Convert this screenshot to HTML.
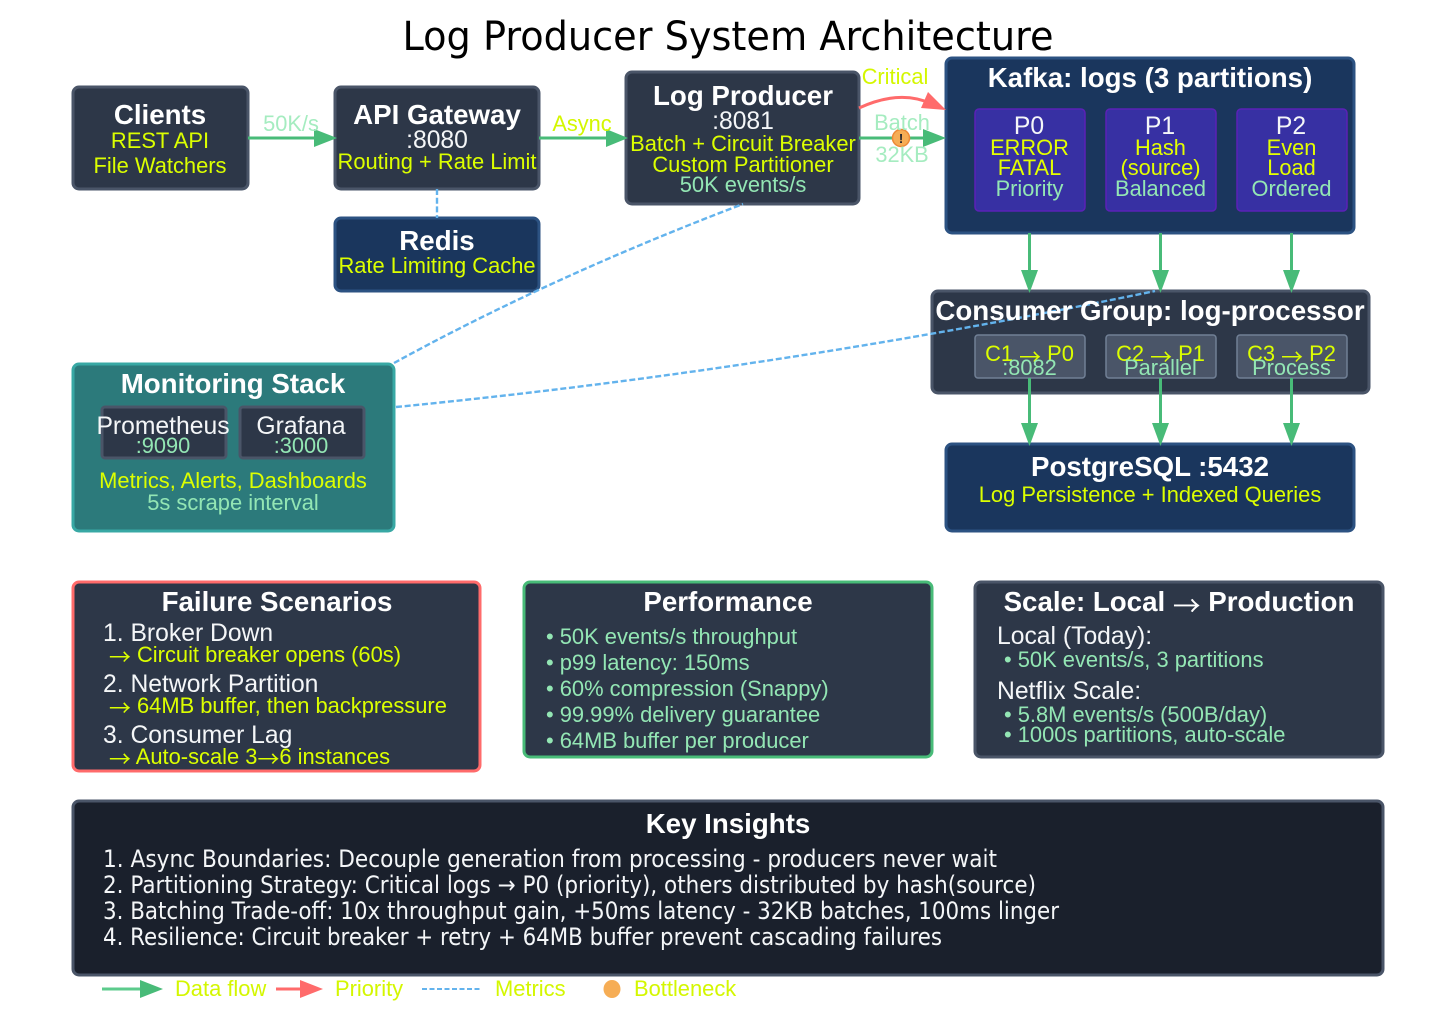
<!DOCTYPE html>
<html lang="en">
<head>
<meta charset="utf-8">
<title>Log Producer System Architecture</title>
<style>
html,body{margin:0;padding:0;background:#fff}
svg{display:block}
text{font-family:"Liberation Sans",Arial,sans-serif}
.m{text-anchor:middle}
.h{font-weight:700;font-size:27.7px;fill:#fff}
.w{font-size:24.7px;fill:#f4f6f8}
.y{font-size:21.9px;fill:#dcff00}
.g{font-size:21.9px;fill:#93e6b4}
.ys{font-size:21.8px;fill:#e4ff00}
.gs{font-size:21.8px;fill:#93e6b4}
.ll{fill:#a5ecc0}
.ly{fill:#d4f700}
.d{fill:#2d3748;stroke:#4a5568;stroke-width:3}
.b{fill:#1a365d;stroke:#2c5282;stroke-width:3}
.p{fill:#3730a3;stroke:#5b21b6;stroke-width:1.5}
.c{fill:#4a5568;stroke:#718096;stroke-width:1.5}
.lg{fill:none;stroke:#48bb78;stroke-width:3}
.lr{fill:none;stroke:#ff6b6b;stroke-width:3}
.ld{fill:none;stroke:#63b3ed;stroke-width:2.4;stroke-dasharray:6 2.7}
.ag{fill:#48bb78}
.ar{fill:#ff6b6b}
.k{font-family:"DejaVu Sans",sans-serif;fill:#f4f6f8}
.ao{font-family:"Noto Sans CJK JP",sans-serif;font-weight:400}
</style>
</head>
<body>
<svg width="1456" height="1019" viewBox="0 0 1456 1019" xmlns="http://www.w3.org/2000/svg">
<rect width="1456" height="1019" fill="#fff"/>
<text class="k m" x="728" y="50" font-size="40" style="fill:#000" textLength="651" lengthAdjust="spacingAndGlyphs">Log Producer System Architecture</text>

<!-- Boxes -->
<rect class="d" x="73" y="87" width="175" height="102" rx="6"/>
<rect class="d" x="335" y="87" width="204" height="102" rx="6"/>
<rect class="d" x="626" y="72" width="233" height="132" rx="6"/>
<rect class="b" x="946" y="58" width="408" height="175" rx="6"/>
<rect class="p" x="975" y="109" width="110" height="102" rx="4"/>
<rect class="p" x="1106" y="109" width="110" height="102" rx="4"/>
<rect class="p" x="1237" y="109" width="110" height="102" rx="4"/>
<rect class="b" x="335" y="218" width="204" height="73" rx="6"/>
<rect class="d" x="932" y="291" width="437" height="102" rx="6"/>
<rect class="c" x="975" y="335" width="110" height="43" rx="3"/>
<rect class="c" x="1106" y="335" width="110" height="43" rx="3"/>
<rect class="c" x="1237" y="335" width="110" height="43" rx="3"/>
<rect class="b" x="946" y="444" width="408" height="87" rx="6"/>
<rect x="73" y="364" width="321" height="167" rx="6" fill="#2c7a7b" stroke="#38a8a4" stroke-width="3"/>
<rect class="d" x="102" y="407" width="124" height="51" rx="3"/>
<rect class="d" x="240" y="407" width="124" height="51" rx="3"/>
<rect x="73" y="582" width="407" height="189" rx="6" fill="#2d3748" stroke="#ff6b6b" stroke-width="3"/>
<rect x="524" y="582" width="408" height="175" rx="6" fill="#2d3748" stroke="#48bb78" stroke-width="3"/>
<rect class="d" x="975" y="582" width="408" height="175" rx="6"/>
<rect x="73" y="801" width="1310" height="174" rx="6" fill="#1a202c" stroke="#4a5568" stroke-width="3"/>

<!-- Connectors -->
<path class="lg" d="M248,138H318"/><polygon class="ag" points="337,138 314,129 314,147"/>
<path class="lg" d="M539,138H610"/><polygon class="ag" points="628,138 606,129 606,147"/>
<path class="lr" d="M859,108Q900,89 932,104"/><polygon class="ar" points="946,110 928,92 921,108"/>
<path class="lg" d="M859,138H926"/><polygon class="ag" points="946,138 923,129 923,147"/>
<path class="lg" d="M1029.5,233V272"/><polygon class="ag" points="1029.5,293 1021,270 1038,270"/>
<path class="lg" d="M1160.5,233V272"/><polygon class="ag" points="1160.5,293 1152,270 1169,270"/>
<path class="lg" d="M1291.5,233V272"/><polygon class="ag" points="1291.5,293 1283,270 1300,270"/>
<path class="lg" d="M1029.5,378V425"/><polygon class="ag" points="1029.5,446 1021,423 1038,423"/>
<path class="lg" d="M1160.5,378V425"/><polygon class="ag" points="1160.5,446 1152,423 1169,423"/>
<path class="lg" d="M1291.5,378V425"/><polygon class="ag" points="1291.5,446 1283,423 1300,423"/>
<path class="ld" d="M437,189V218"/>
<path class="ld" d="M394,363Q551,277 743,204"/>
<path class="ld" d="M396,407Q774,370 1155,291"/>
<circle cx="901" cy="138" r="8.5" fill="#f6ad55" stroke="#ed8936" stroke-width="1.5"/>
<text class="m" x="901" y="143" font-size="13" font-weight="700" fill="#1a202c">!</text>

<!-- Connector labels -->
<text class="gs m ll" x="291" y="131">50K/s</text>
<text class="ys m ly" x="582" y="131">Async</text>
<text class="ys m ly" x="895" y="84">Critical</text>
<text class="gs m ll" x="902" y="130">Batch</text>
<text class="gs m ll" x="902" y="162">32KB</text>

<!-- Clients -->
<text class="h m" x="160" y="124">Clients</text>
<text class="y m" x="160" y="148">REST API</text>
<text class="y m" x="160" y="173">File Watchers</text>
<!-- API -->
<text class="h m" x="437" y="124">API Gateway</text>
<text class="w m" x="437" y="148">:8080</text>
<text class="y m" x="437" y="169">Routing + Rate Limit</text>
<!-- Producer -->
<text class="h m" x="743" y="105">Log Producer</text>
<text class="w m" x="743" y="129">:8081</text>
<text class="y m" x="743" y="151">Batch + Circuit Breaker</text>
<text class="y m" x="743" y="172">Custom Partitioner</text>
<text class="g m" x="743" y="192">50K events/s</text>
<!-- Kafka -->
<text class="h m" x="1150" y="87">Kafka: logs (3 partitions)</text>
<text class="w m" x="1029" y="134">P0</text>
<text class="ys m" x="1029.5" y="155">ERROR</text>
<text class="ys m" x="1029.5" y="175">FATAL</text>
<text class="gs m" x="1029.5" y="196">Priority</text>
<text class="w m" x="1160" y="134">P1</text>
<text class="ys m" x="1160.5" y="155">Hash</text>
<text class="ys m" x="1160.5" y="175">(source)</text>
<text class="gs m" x="1160.5" y="196">Balanced</text>
<text class="w m" x="1291" y="134">P2</text>
<text class="ys m" x="1291.5" y="155">Even</text>
<text class="ys m" x="1291.5" y="175">Load</text>
<text class="gs m" x="1291.5" y="196">Ordered</text>
<!-- Redis -->
<text class="h m" x="437" y="250">Redis</text>
<text class="y m" x="437" y="273">Rate Limiting Cache</text>
<!-- Consumer -->
<text class="h m" x="1150" y="320">Consumer Group: log-processor</text>
<text class="y m" x="1029.5" y="361">C1 <tspan class="ao" dy="4">→</tspan><tspan dy="-4"> P0</tspan></text>
<text class="gs m" x="1029.5" y="375">:8082</text>
<text class="y m" x="1160.5" y="361">C2 <tspan class="ao" dy="4">→</tspan><tspan dy="-4"> P1</tspan></text>
<text class="gs m" x="1160.5" y="375">Parallel</text>
<text class="y m" x="1291.5" y="361">C3 <tspan class="ao" dy="4">→</tspan><tspan dy="-4"> P2</tspan></text>
<text class="gs m" x="1291.5" y="375">Process</text>
<!-- Postgres -->
<text class="h m" x="1150" y="476">PostgreSQL :5432</text>
<text class="y m" x="1150" y="502">Log Persistence + Indexed Queries</text>
<!-- Monitoring -->
<text class="h m" x="233" y="393">Monitoring Stack</text>
<text class="w m" x="163" y="434">Prometheus</text>
<text class="gs m" x="163" y="453">:9090</text>
<text class="w m" x="301" y="434">Grafana</text>
<text class="gs m" x="301" y="453">:3000</text>
<text class="y m" x="233" y="488">Metrics, Alerts, Dashboards</text>
<text class="g m" x="233" y="510">5s scrape interval</text>
<!-- Failure -->
<text class="h m" x="277" y="611">Failure Scenarios</text>
<text class="w" x="103" y="641">1. Broker Down</text>
<text class="y" x="109" y="662"><tspan class="ao" dy="3">→</tspan><tspan dy="-3"> Circuit breaker opens (60s)</tspan></text>
<text class="w" x="103" y="692">2. Network Partition</text>
<text class="y" x="109" y="713"><tspan class="ao" dy="3">→</tspan><tspan dy="-3"> 64MB buffer, then backpressure</tspan></text>
<text class="w" x="103" y="743">3. Consumer Lag</text>
<text class="y" x="109" y="764"><tspan class="ao" dy="3">→</tspan><tspan dy="-3"> Auto-scale 3</tspan><tspan class="ao" dy="3">→</tspan><tspan dy="-3">6 instances</tspan></text>
<!-- Performance -->
<text class="h m" x="728" y="611">Performance</text>
<text class="g" x="546" y="644">• 50K events/s throughput</text>
<text class="g" x="546" y="670">• p99 latency: 150ms</text>
<text class="g" x="546" y="696">• 60% compression (Snappy)</text>
<text class="g" x="546" y="722">• 99.99% delivery guarantee</text>
<text class="g" x="546" y="748">• 64MB buffer per producer</text>
<!-- Scale -->
<text class="h m" x="1179" y="611">Scale: Local <tspan class="ao" dy="5">→</tspan><tspan dy="-5"> Production</tspan></text>
<text class="w" x="997" y="644">Local (Today):</text>
<text class="g" x="1004" y="667">• 50K events/s, 3 partitions</text>
<text class="w" x="997" y="699">Netflix Scale:</text>
<text class="g" x="1004" y="722">• 5.8M events/s (500B/day)</text>
<text class="g" x="1004" y="742">• 1000s partitions, auto-scale</text>
<!-- Insights -->
<text class="h m" x="728" y="833">Key Insights</text>
<text class="k" x="103" y="867" font-size="24" textLength="894" lengthAdjust="spacingAndGlyphs">1. Async Boundaries: Decouple generation from processing - producers never wait</text>
<text class="k" x="103" y="893" font-size="24" textLength="933" lengthAdjust="spacingAndGlyphs">2. Partitioning Strategy: Critical logs → P0 (priority), others distributed by hash(source)</text>
<text class="k" x="103" y="919" font-size="24" textLength="956" lengthAdjust="spacingAndGlyphs">3. Batching Trade-off: 10x throughput gain, +50ms latency - 32KB batches, 100ms linger</text>
<text class="k" x="103" y="945" font-size="24" textLength="839" lengthAdjust="spacingAndGlyphs">4. Resilience: Circuit breaker + retry + 64MB buffer prevent cascading failures</text>
<!-- Legend -->
<path d="M102,989H142" stroke="#5ccb8c" stroke-width="3" fill="none"/><polygon class="ag" points="163,989 140,980 140,998"/>
<text class="y ly" x="175" y="996">Data flow</text>
<path class="lr" d="M276,989H302"/><polygon class="ar" points="323,989 300,980 300,998"/>
<text class="y ly" x="335" y="996">Priority</text>
<path d="M422,989H481" stroke="#63b3ed" stroke-width="2" stroke-dasharray="5 2.5" fill="none"/>
<text class="y ly" x="495" y="996">Metrics</text>
<ellipse cx="612" cy="989" rx="8.5" ry="9" fill="#f6ad55"/>
<text class="y ly" x="634" y="996">Bottleneck</text>
</svg>
</body>
</html>
